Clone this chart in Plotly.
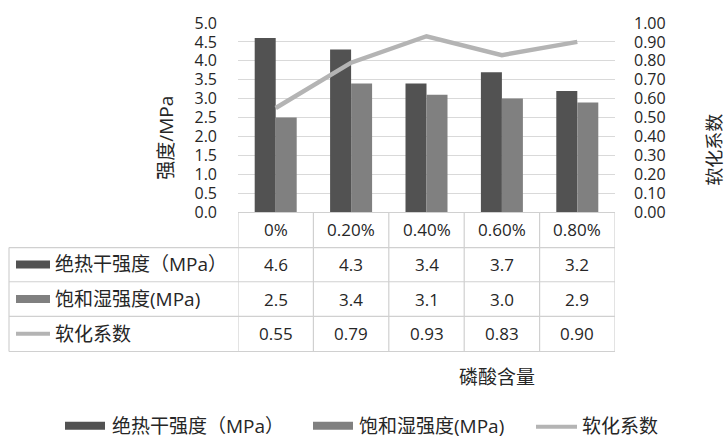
import plotly.graph_objects as go

categories = ["0%", "0.20%", "0.40%", "0.60%", "0.80%"]
dry_strength = [4.6, 4.3, 3.4, 3.7, 3.2]
wet_strength = [2.5, 3.4, 3.1, 3.0, 2.9]
softening = [0.55, 0.79, 0.93, 0.83, 0.90]
series_names = ["绝热干强度（MPa）", "饱和湿强度(MPa)", "软化系数"]
y_title = "强度/MPa"
y2_title = "软化系数"
x_title = "磷酸含量"

W, H = 726, 438
L, R, T, B = 238, 615, 21, 212
def px(x):
    return (x - L) / (R - L)
def py(y):
    return (B - y) / (B - T)

C_DARK = "#525252"
C_MID = "#808080"
C_LINE = "#b4b4b4"
C_GRID = "#d9d9d9"
C_TXT = "#262626"
FONT = "Open Sans, Noto Sans CJK SC, sans-serif"
CJK = "Noto Sans CJK SC, sans-serif"

fig = go.Figure()
fig.add_trace(go.Bar(x=categories, y=dry_strength, name=series_names[0],
                     marker=dict(color=C_DARK, line=dict(width=0)), showlegend=False))
fig.add_trace(go.Bar(x=categories, y=wet_strength, name=series_names[1],
                     marker=dict(color=C_MID, line=dict(width=0)), showlegend=False))
fig.add_trace(go.Scatter(x=categories, y=softening, name=series_names[2], yaxis="y2",
                         mode="lines", line=dict(color=C_LINE, width=4.5), showlegend=False))

shapes = []
ann = []
TL = "#d0d0d0"
# table vertical lines (columns)
for i in range(len(categories) + 1):
    shapes.append(dict(type="line", xref="x", yref="paper", x0=i - 0.5, x1=i - 0.5,
                       y0=py(212), y1=py(353), line=dict(color=TL, width=1.2)))
# table horizontal lines
for yy in [248, 282.5, 317.5, 353]:
    shapes.append(dict(type="line", xref="paper", yref="paper", x0=px(9), x1=px(615),
                       y0=py(yy), y1=py(yy), line=dict(color=TL, width=1.2)))
shapes.append(dict(type="line", xref="paper", yref="paper", x0=px(9), x1=px(9),
                   y0=py(248), y1=py(353), line=dict(color=TL, width=1.2)))

# header row
for c in categories:
    ann.append(dict(x=c, xref="x", y=py(230), yref="paper", text=c, showarrow=False,
                    font=dict(family=FONT, size=17, color=C_TXT), xanchor="center", yanchor="middle"))
rows = [(dry_strength, "{:.1f}", 265), (wet_strength, "{:.1f}", 300), (softening, "{:.2f}", 335)]
for vals, fmt, yy in rows:
    for c, v in zip(categories, vals):
        ann.append(dict(x=c, xref="x", y=py(yy), yref="paper", text=fmt.format(v), showarrow=False,
                        font=dict(family=FONT, size=17, color=C_TXT), xanchor="center", yanchor="middle"))
# table legend keys
keys = [("rect", C_DARK, 265), ("rect", C_MID, 300), ("line", C_LINE, 335)]
for (kind, col, yy), name in zip(keys, series_names):
    if kind == "rect":
        shapes.append(dict(type="rect", xref="paper", yref="paper", x0=px(16), x1=px(50),
                           y0=py(yy - 4), y1=py(yy + 4), fillcolor=col, line=dict(width=0)))
    else:
        shapes.append(dict(type="line", xref="paper", yref="paper", x0=px(16), x1=px(50),
                           y0=py(yy), y1=py(yy), line=dict(color=col, width=4)))
    ann.append(dict(x=px(53), xref="paper", y=py(yy), yref="paper", text=name, showarrow=False,
                    font=dict(family=FONT, size=19, color=C_TXT), xanchor="left", yanchor="middle"))

# axis titles
ann.append(dict(x=px(166), xref="paper", y=py(137), yref="paper", text=y_title, textangle=-90,
                showarrow=False, font=dict(family=FONT, size=19, color=C_TXT),
                xanchor="center", yanchor="middle"))
ann.append(dict(x=px(713), xref="paper", y=py(149), yref="paper", text=y2_title, textangle=-90,
                showarrow=False, font=dict(family=CJK, size=18, color=C_TXT),
                xanchor="center", yanchor="middle"))
ann.append(dict(x=px(497), xref="paper", y=py(377), yref="paper", text=x_title,
                showarrow=False, font=dict(family=CJK, size=19, color=C_TXT),
                xanchor="center", yanchor="middle"))

# bottom legend
leg = [("rect", C_DARK, 65, 105, 110), ("rect", C_MID, 313, 353, 357), ("line", C_LINE, 536, 577, 580)]
for (kind, col, x0, x1, tx), name in zip(leg, series_names):
    if kind == "rect":
        shapes.append(dict(type="rect", xref="paper", yref="paper", x0=px(x0), x1=px(x1),
                           y0=py(424), y1=py(432), fillcolor=col, line=dict(width=0)))
    else:
        shapes.append(dict(type="line", xref="paper", yref="paper", x0=px(x0), x1=px(x1),
                           y0=py(429), y1=py(429), line=dict(color=col, width=4)))
    ann.append(dict(x=px(tx), xref="paper", y=py(428), yref="paper", text=name, showarrow=False,
                    font=dict(family=FONT, size=19, color=C_TXT), xanchor="left", yanchor="middle"))

fig.update_layout(
    width=W, height=H,
    margin=dict(l=L, r=W - R, t=T, b=H - B, pad=0),
    paper_bgcolor="white", plot_bgcolor="white",
    barmode="group", bargap=0.443, bargroupgap=0,
    showlegend=False,
    font=dict(family=FONT, size=17, color=C_TXT),
    xaxis=dict(type="category", range=[-0.5, 4.5], showticklabels=False, ticks="",
               showgrid=False, showline=True, linecolor=TL, linewidth=1.2, zeroline=False,
               fixedrange=True),
    yaxis=dict(range=[0, 5], dtick=0.5, tick0=0, tickformat=".1f", showgrid=True,
               gridcolor=C_GRID, gridwidth=1, zeroline=False, showline=False, ticks="",
               ticklabelstandoff=20, tickfont=dict(family=FONT, size=16, color=C_TXT)),
    yaxis2=dict(range=[0, 1], dtick=0.1, tick0=0, tickformat=".2f", overlaying="y", side="right",
                showgrid=False, zeroline=False, showline=False, ticks="",
                ticklabelstandoff=18, tickfont=dict(family=FONT, size=16, color=C_TXT)),
    shapes=shapes, annotations=ann,
)

fig.write_html("out.html", config={"displayModeBar": False},
               post_script="document.body.style.margin='0';document.body.style.overflow='hidden';")
